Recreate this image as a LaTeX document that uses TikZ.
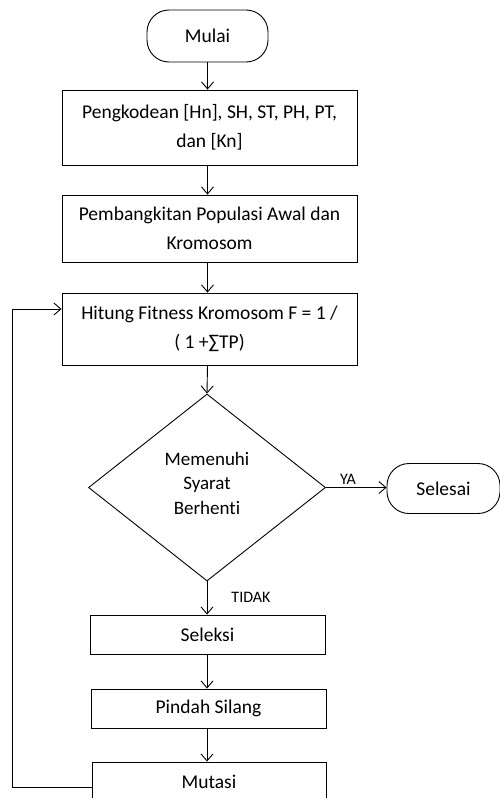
\documentclass[tikz,border=0pt]{standalone}
\usepackage{fontspec}
\setmainfont[Ligatures=NoCommon]{Carlito}
\usetikzlibrary{shapes.geometric,arrows.meta}
\begin{document}
\begin{tikzpicture}[x=1pt,y=-1pt,line width=0.9pt,
  >={Straight Barb[length=7pt,width=12pt]},
  every node/.style={font=\fontsize{19.5}{29}\selectfont},
  terminal/.style={draw,rounded corners=22pt,minimum width=121pt,minimum height=52pt,inner sep=0pt},
  proses/.style={draw,rectangle,minimum width=295pt,inner sep=0pt,align=center},
  keputusan/.style={draw,diamond,minimum width=237pt,minimum height=187pt,inner sep=0pt},
  ket/.style={font=\fontsize{16}{18}\selectfont}]
  \useasboundingbox (0,0) rectangle (500,798);
  \clip (0,0) rectangle (500,798);
  % langkah utama
  \node[terminal] (mulai) at (207.5,36) {Mulai};
  \node[proses,minimum height=75pt] (kode) at (209.5,127.5) {Pengkodean [Hn], SH, ST, PH, PT,\\ dan [Kn]};
  \node[proses,minimum height=67pt] (bangkit) at (209.5,228.5) {Pembangkitan Populasi Awal dan\\ Kromosom};
  \node[proses,minimum height=72pt] (fitness) at (209.5,329) {Hitung Fitness Kromosom F = 1 /\\ ( 1 +∑TP)};
  \node[keputusan] (syarat) at (207,487.5) {};
  \node[align=center,font=\fontsize{19}{24.5}\selectfont] (syarat-teks) at (207,483) {Memenuhi\\ Syarat\\ Berhenti};
  \node[terminal,minimum width=113pt,minimum height=50pt] (selesai) at (443.5,488.5) {Selesai};
  \node[proses,minimum width=235pt,minimum height=39pt] (seleksi) at (207.5,634.5) {Seleksi};
  \node[proses,minimum width=235pt,minimum height=39pt] (silang) at (208.5,708.5) {Pindah Silang};
  \node[proses,minimum width=234pt,minimum height=39pt] (mutasi) at (209,781.5) {Mutasi};
  \node[ket] (ya) at (348,479) {YA};
  \node[ket] (tidak) at (251,597) {TIDAK};
  % panah
  \draw[->] (mulai.south) -- (mulai.south |- kode.north);
  \draw[->] (mulai.south |- kode.south) -- (mulai.south |- bangkit.north);
  \draw[->] (mulai.south |- bangkit.south) -- (mulai.south |- fitness.north);
  \draw[->] (mulai.south |- fitness.south) -- (syarat.north);
  \draw[->] (syarat.east) -- (syarat.east -| selesai.west);
  \draw[->] (syarat.south) -- (syarat.south |- seleksi.north);
  \draw[->] (syarat.south |- seleksi.south) -- (syarat.south |- silang.north);
  \draw[->] (syarat.south |- silang.south) -- (syarat.south |- mutasi.north);
  % kembali ke fitness
  \coordinate (balik) at (12,309);
  \draw[->] ([yshift=-5.5pt]mutasi.west) -| (balik) -- (balik -| fitness.west);
\end{tikzpicture}
\end{document}
